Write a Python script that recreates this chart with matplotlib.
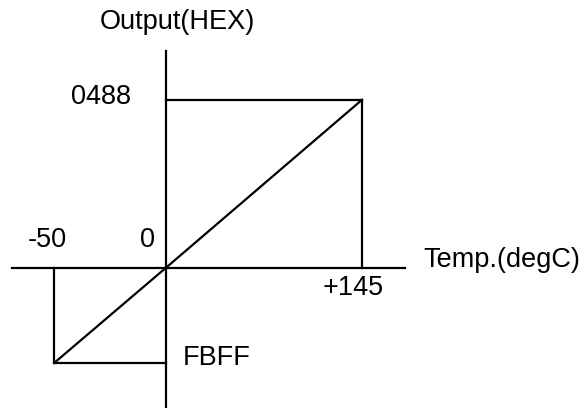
import matplotlib
matplotlib.use("Agg")
import matplotlib.pyplot as plt
import numpy as np

# characteristic points (temperature in degC, output code)
temps = [-50, 0, 145]
codes = [-1025, 0, 1160]          # 0xFBFF (signed), 0x0000, 0x0488
code_labels = ["FBFF", "0", "0488"]
temp_labels = ["-50", "0", "+145"]
x_title = "Temp.(degC)"
y_title = "Output(HEX)"

plt.rcParams['font.family'] = ['Liberation Sans', 'DejaVu Sans']

# schematic (non proportional) scales: negative side drawn with its own stretch
def piecewise(k):
    def fwd(v):
        v = np.asarray(v, dtype=float)
        return np.where(v < 0, v * k, v)
    def inv(v):
        v = np.asarray(v, dtype=float)
        return np.where(v < 0, v / k, v)
    return fwd, inv

fig = plt.figure(figsize=(5.83, 4.08), dpi=100)
ax = fig.add_axes([0, 0, 1, 1])
ax.set_xscale('function', functions=piecewise(1.657))
ax.set_yscale('function', functions=piecewise(0.643))
ax.set_xlim(-74.1, 308.4)
ax.set_ylim(-1507, 1849)
ax.axis('off')

lw = 1.6
# axes
ax.axhline(0, xmin=12 / 583, xmax=405 / 583, color='black', lw=lw)
ax.axvline(0, ymin=0, ymax=(408 - 51) / 408, color='black', lw=lw)

# transfer line
ax.plot(temps, codes, color='black', lw=lw)
# guide boxes
ax.plot([temps[1], temps[2], temps[2]], [codes[2], codes[2], codes[1]], color='black', lw=lw)
ax.plot([temps[0], temps[0], temps[1]], [codes[1], codes[0], codes[0]], color='black', lw=lw)

fs = 19.5
# tick labels
ax.annotate(temp_labels[0], (temps[0], 0), xytext=(-7, 28), textcoords='offset pixels',
            ha='center', va='center', fontsize=fs)
ax.annotate(temp_labels[1], (temps[1], 0), xytext=(-11, 28), textcoords='offset pixels',
            ha='right', va='center', fontsize=fs)
ax.annotate(temp_labels[2], (temps[2], 0), xytext=(-9, -20), textcoords='offset pixels',
            ha='center', va='center', fontsize=fs)
ax.annotate(code_labels[2], (0, codes[2]), xytext=(-35, 3), textcoords='offset pixels',
            ha='right', va='center', fontsize=fs)
ax.annotate(code_labels[0], (0, codes[0]), xytext=(17, 5), textcoords='offset pixels',
            ha='left', va='center', fontsize=fs)

# axis titles
ax.text(423 / 583, 1 - 260 / 408, x_title, transform=ax.transAxes,
        ha='left', va='center', fontsize=fs)
ax.text(177 / 583, 1 - 22 / 408, y_title, transform=ax.transAxes,
        ha='center', va='center', fontsize=fs)

fig.savefig("out.png", dpi=100)
